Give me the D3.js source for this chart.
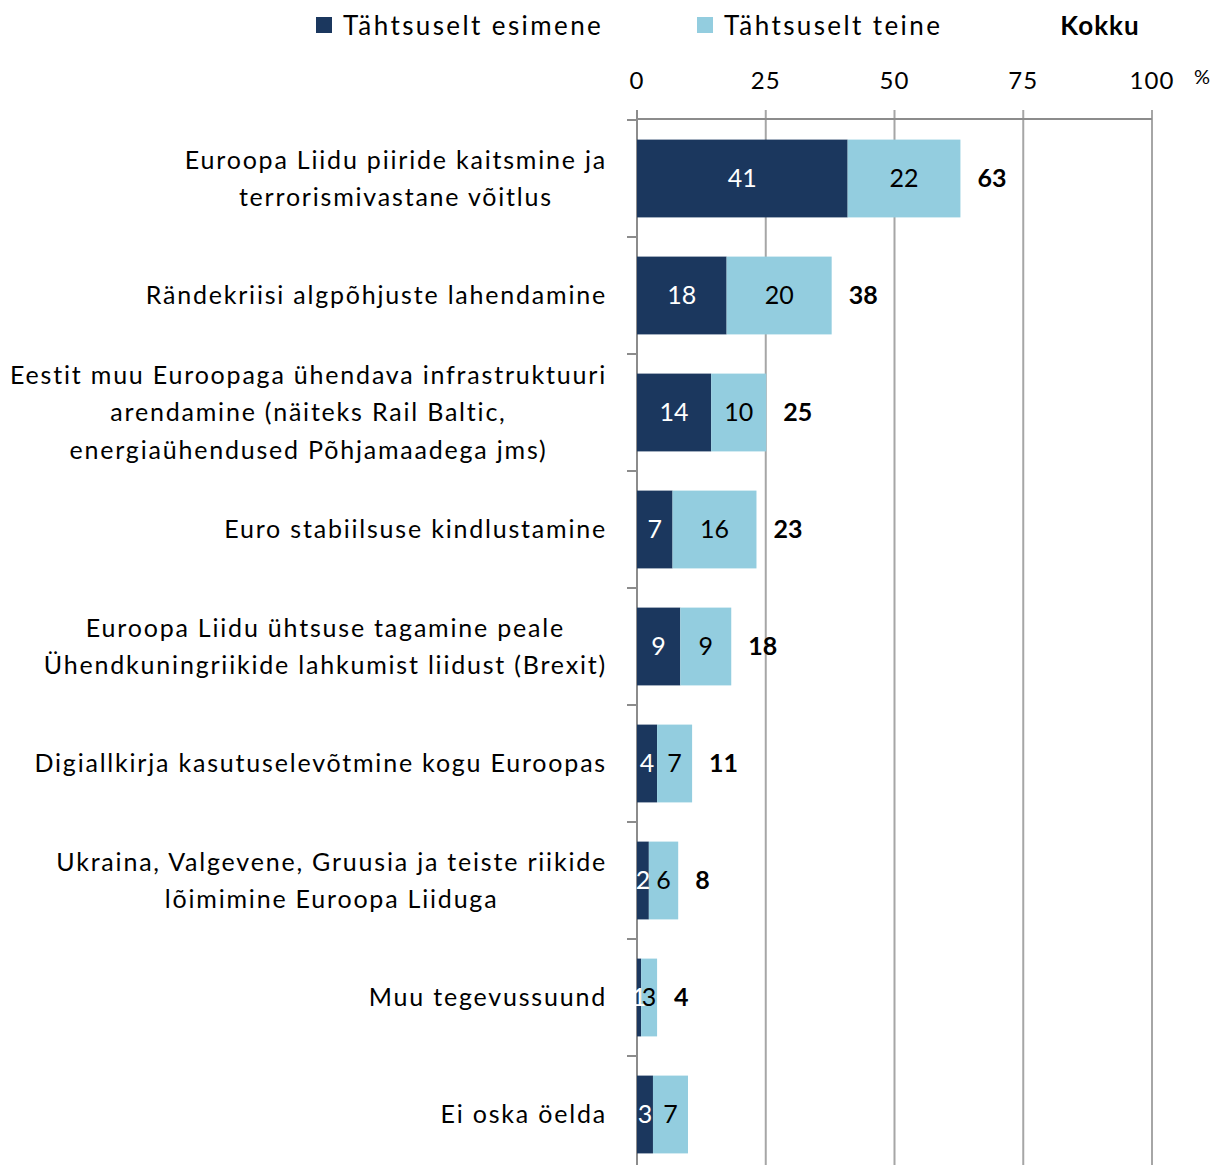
<!DOCTYPE html>
<html>
<head>
<meta charset="utf-8">
<script src="https://cdn.jsdelivr.net/npm/d3@7"></script>
<style>
  body { margin: 0; background: #fff; }
  svg { font-family: Lato, "Open Sans", sans-serif; }
</style>
</head>
<body>
<svg width="1226" height="1165"></svg>
<script>
// categories, each one an array of label lines
var categories = [
  ["Euroopa Liidu piiride kaitsmine ja", "terrorismivastane võitlus"],
  ["Rändekriisi algpõhjuste lahendamine"],
  ["Eestit muu Euroopaga ühendava infrastruktuuri", "arendamine (näiteks Rail Baltic,", "energiaühendused Põhjamaadega jms)"],
  ["Euro stabiilsuse kindlustamine"],
  ["Euroopa Liidu ühtsuse tagamine peale", "Ühendkuningriikide lahkumist liidust (Brexit)"],
  ["Digiallkirja kasutuselevõtmine kogu Euroopas"],
  ["Ukraina, Valgevene, Gruusia ja teiste riikide", "lõimimine Euroopa Liiduga"],
  ["Muu tegevussuund"],
  ["Ei oska öelda"]
];
var first = [40.9, 17.4, 14.4, 6.9, 8.4, 3.9, 2.3, 0.8, 3.1];
var second = [21.9, 20.4, 10.7, 16.3, 9.9, 6.8, 5.7, 3.1, 6.8];
var firstLabels = ["41", "18", "14", "7", "9", "4", "2", "1", "3"];
var secondLabels = ["22", "20", "10", "16", "9", "7", "6", "3", "7"];
var totalLabels = ["63", "38", "25", "23", "18", "11", "8", "4", null];
var ticks = [0, 25, 50, 75, 100];
var seriesNames = ["Tähtsuselt esimene", "Tähtsuselt teine"];
var colors = ["#1b375e", "#93cddf"];

var svg = d3.select("svg");

var x = d3.scaleLinear().domain([0, 100]).range([637, 1152]);
var y = d3.scaleBand().domain(d3.range(categories.length)).range([120, 1173]).paddingInner(0.335).paddingOuter(0.1675);

// gridlines
svg.append("g").selectAll("line")
  .data(ticks.slice(1))
  .enter().append("line")
  .attr("x1", d => x(d)).attr("x2", d => x(d))
  .attr("y1", 110).attr("y2", 1165)
  .attr("stroke", "#a6a6a6").attr("stroke-width", 2);

// top axis line + left axis line
svg.append("line")
  .attr("x1", x(0)).attr("x2", x(100)).attr("y1", 119).attr("y2", 119)
  .attr("stroke", "#8c8c8c").attr("stroke-width", 2);
svg.append("line")
  .attr("x1", x(0)).attr("x2", x(0)).attr("y1", 110).attr("y2", 1165)
  .attr("stroke", "#8c8c8c").attr("stroke-width", 2);

// category boundary ticks on left
svg.append("g").selectAll("line")
  .data(d3.range(categories.length))
  .enter().append("line")
  .attr("x1", 627).attr("x2", x(0))
  .attr("y1", d => y(d) - y.step() * y.paddingInner() / 2)
  .attr("y2", d => y(d) - y.step() * y.paddingInner() / 2)
  .attr("stroke", "#8c8c8c").attr("stroke-width", 2);

// tick labels
svg.append("g").selectAll("text")
  .data(ticks)
  .enter().append("text")
  .attr("x", d => x(d)).attr("y", 89)
  .attr("text-anchor", "middle")
  .attr("font-size", 24).attr("letter-spacing", 1).attr("fill", "#000")
  .text(d => d);
svg.append("text").attr("x", 1202).attr("y", 84)
  .attr("text-anchor", "middle").attr("font-size", 20).text("%");

// bars
var rows = svg.append("g").selectAll("g")
  .data(categories)
  .enter().append("g");

rows.append("rect")
  .attr("x", x(0))
  .attr("y", (d, i) => y(i))
  .attr("width", (d, i) => x(first[i]) - x(0))
  .attr("height", y.bandwidth())
  .attr("fill", colors[0]);

rows.append("rect")
  .attr("x", (d, i) => x(first[i]))
  .attr("y", (d, i) => y(i))
  .attr("width", (d, i) => x(first[i] + second[i]) - x(first[i]))
  .attr("height", y.bandwidth())
  .attr("fill", colors[1]);

rows.append("text")
  .attr("x", (d, i) => (x(0) + x(first[i])) / 2)
  .attr("y", (d, i) => y(i) + y.bandwidth() / 2)
  .attr("dy", "0.35em")
  .attr("text-anchor", "middle")
  .attr("font-size", 25).attr("fill", "#fff")
  .text((d, i) => firstLabels[i]);

rows.append("text")
  .attr("x", (d, i) => (x(first[i]) + x(first[i] + second[i])) / 2)
  .attr("y", (d, i) => y(i) + y.bandwidth() / 2)
  .attr("dy", "0.35em")
  .attr("text-anchor", "middle")
  .attr("font-size", 25).attr("fill", "#000")
  .text((d, i) => secondLabels[i]);

rows.append("text")
  .attr("x", (d, i) => x(first[i] + second[i]) + 17)
  .attr("y", (d, i) => y(i) + y.bandwidth() / 2)
  .attr("dy", "0.35em")
  .attr("font-size", 25).attr("font-weight", "bold").attr("fill", "#000")
  .text((d, i) => totalLabels[i]);

// category labels: block right-aligned at 607, lines centred in block
var lineH = 37.5;
rows.each(function(lines, i) {
  var g = d3.select(this);
  var cy = y(i) + y.bandwidth() / 2;
  var texts = lines.map(function(l, j) {
    return g.append("text")
      .attr("y", cy + (j - (lines.length - 1) / 2) * lineH)
      .attr("dy", "0.35em")
      .attr("text-anchor", "middle")
      .attr("font-size", 25).attr("letter-spacing", 1.8).attr("fill", "#000")
      .text(l);
  });
  var w = d3.max(texts, t => t.node().getComputedTextLength());
  texts.forEach(t => t.attr("x", 607 - w / 2));
});

// legend
var legendX = [316, 697];
seriesNames.forEach(function(name, i) {
  svg.append("rect").attr("x", legendX[i]).attr("y", 17).attr("width", 16).attr("height", 16).attr("fill", colors[i]);
  svg.append("text").attr("x", legendX[i] + 27).attr("y", 35)
    .attr("font-size", 26).attr("letter-spacing", 2.4).attr("fill", "#000").text(name);
});
svg.append("text").attr("x", 1100).attr("y", 35).attr("text-anchor", "middle")
  .attr("font-size", 26).attr("letter-spacing", 1).attr("font-weight", "bold").text("Kokku");
</script>
</body>
</html>
